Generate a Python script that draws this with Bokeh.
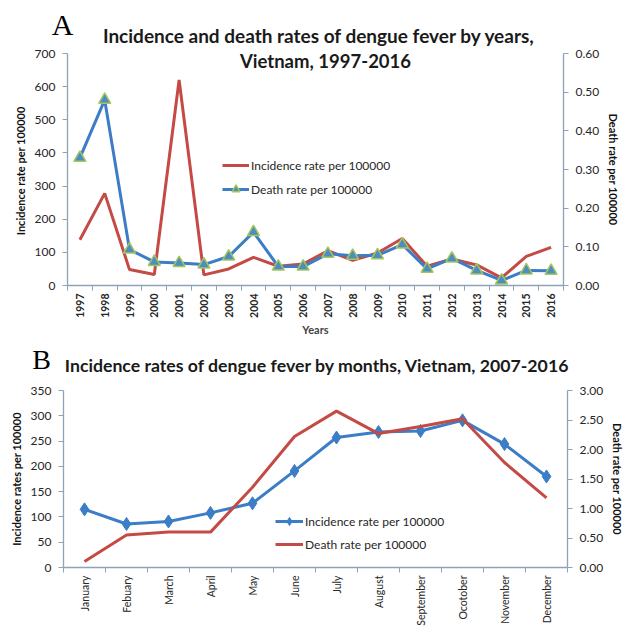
import math
from bokeh.plotting import figure
from bokeh.models import (Range1d, LinearAxis, FixedTicker, Label, Legend,
                          LegendItem, NumeralTickFormatter)
from bokeh.layouts import column
from bokeh.embed import file_html
from bokeh.resources import INLINE

# ---------------- data: chart A (by years) ----------------
years = [1997, 1998, 1999, 2000, 2001, 2002, 2003, 2004, 2005, 2006,
         2007, 2008, 2009, 2010, 2011, 2012, 2013, 2014, 2015, 2016]
year_labels = ["1997", "1998", "1999", "2000", "2001", "2002", "2003", "2004",
               "2005", "2006", "2007", "2008", "2009", "2010", "2011", "2012",
               "2013", "2014", "2015", "2016"]
incidence_years = [138, 278, 48, 33, 620, 32, 50, 85, 58, 65,
                   105, 76, 98, 142, 58, 80, 62, 23, 88, 115]
death_years = [0.33, 0.48, 0.093, 0.061, 0.058, 0.054, 0.075, 0.138, 0.049, 0.049,
               0.082, 0.077, 0.078, 0.106, 0.043, 0.070, 0.039, 0.013, 0.039, 0.038]
a_left_ticks = [0, 100, 200, 300, 400, 500, 600, 700]
a_right_ticks = [0.0, 0.1, 0.2, 0.3, 0.4, 0.5, 0.6]

# ---------------- data: chart B (by months) ----------------
month_pos = [0, 1, 2, 3, 4, 5, 6, 7, 8, 9, 10, 11]
months = ["January", "Febuary", "March", "April", "May", "June", "July",
          "August", "September", "Ocotober", "November", "December"]
incidence_months = [115, 86, 91, 108, 127, 191, 257, 268, 270, 291, 244, 180]
death_months = [0.10, 0.55, 0.60, 0.60, 1.36, 2.22, 2.65, 2.27, 2.39, 2.52, 1.78, 1.18]
b_left_ticks = [0, 50, 100, 150, 200, 250, 300, 350]
b_right_ticks = [0.0, 0.5, 1.0, 1.5, 2.0, 2.5, 3.0]

# ---------------- styles ----------------
RED = "#C44A45"
BLUE = "#3B7DC6"
TRI_FILL = "#4A8EC2"
TRI_LINE = "#A6C55A"
AXIS = "#8DA3B6"
TXT = "#262626"
FONT = "Lato"
SERIF = "Liberation Serif"
W = 627


def no_align(p):
    try:
        p.frame_align = False
    except Exception:
        pass


def style_y(ax, label):
    ax.axis_label = label
    ax.axis_label_text_font = FONT
    ax.axis_label_text_font_style = "bold"
    ax.axis_label_text_font_size = "11px"
    ax.axis_label_text_color = "#111111"
    ax.axis_label_standoff = 5
    ax.axis_line_color = AXIS
    ax.axis_line_width = 1.3
    ax.major_tick_line_color = AXIS
    ax.major_tick_out = 5
    ax.major_tick_in = 0
    ax.minor_tick_out = 0
    ax.minor_tick_in = 0
    ax.major_label_text_font = FONT
    ax.major_label_text_font_size = "12px"
    ax.major_label_text_color = TXT
    ax.major_label_standoff = 7


def style_x(ax, ticks, labels, bold, size):
    minor = [t - 0.5 for t in ticks] + [ticks[-1] + 0.5]
    ax.ticker = FixedTicker(ticks=ticks, minor_ticks=minor)
    ax.major_label_overrides = {t: l for t, l in zip(ticks, labels)}
    ax.major_label_orientation = math.pi / 2
    ax.major_label_text_font = FONT
    ax.major_label_text_font_size = size
    ax.major_label_text_font_style = "bold" if bold else "normal"
    ax.major_label_text_color = TXT
    ax.major_label_standoff = 4
    ax.axis_line_color = AXIS
    ax.axis_line_width = 1.3
    ax.major_tick_out = 0
    ax.major_tick_in = 0
    ax.minor_tick_line_color = AXIS
    ax.minor_tick_out = 5
    ax.minor_tick_in = 0


def base_fig(height, xr, yr, mbl, mbr, mbt, mbb):
    p = figure(width=W, height=height, x_range=xr, y_range=yr,
               output_backend="svg", toolbar_location=None,
               min_border_left=mbl, min_border_right=mbr,
               min_border_top=mbt, min_border_bottom=mbb)
    p.xgrid.visible = False
    p.ygrid.visible = False
    p.outline_line_color = None
    p.background_fill_color = "white"
    p.border_fill_color = "white"
    no_align(p)
    return p


def header_fig(height):
    h = figure(width=W, height=height, x_range=Range1d(0, W), y_range=Range1d(0, height),
               output_backend="svg", toolbar_location=None,
               x_axis_type=None, y_axis_type=None, min_border=0)
    h.xgrid.visible = False
    h.ygrid.visible = False
    h.outline_line_color = None
    h.background_fill_color = "white"
    h.border_fill_color = "white"
    no_align(h)
    return h


def text_at(p, x, y, text, font, size, bold=True, color="#1a1a1a", units="data"):
    p.add_layout(Label(x=x, y=y, x_units=units, y_units=units, text=text,
                       text_align="center", text_baseline="middle",
                       text_font=font, text_font_size=size,
                       text_font_style="bold" if bold else "normal",
                       text_color=color))


# ================= Header A =================
hA = header_fig(46)
text_at(hA, 62, 22.5, "A", SERIF, "30px", bold=False, color="black")
text_at(hA, 321, 11, "Incidence and death rates of dengue fever  by years,", FONT, "19px")

# ================= Chart A =================
pA = base_fig(292, Range1d(years[0] - 0.5, years[-1] + 0.5), Range1d(0, 700),
              67, 64, 7, 53)
pA.extra_y_ranges = {"death": Range1d(0, 0.6)}

style_y(pA.yaxis[0], "Incidence  rate per 100000")
pA.yaxis[0].ticker = FixedTicker(ticks=a_left_ticks)
ra = LinearAxis(y_range_name="death")
style_y(ra, "Death rate per 100000")
ra.ticker = FixedTicker(ticks=a_right_ticks)
ra.formatter = NumeralTickFormatter(format="0.00")
pA.add_layout(ra, "right")

style_x(pA.xaxis[0], years, year_labels, True, "10.5px")
pA.xaxis[0].major_label_standoff = 3
pA.xaxis[0].axis_label = "Years"
pA.xaxis[0].axis_label_text_font = FONT
pA.xaxis[0].axis_label_text_font_style = "bold"
pA.xaxis[0].axis_label_text_font_size = "11px"
pA.xaxis[0].axis_label_standoff = 2

rA_inc = pA.line(years, incidence_years, line_color=RED, line_width=3)
rA_dl = pA.line(years, death_years, line_color=BLUE, line_width=3, y_range_name="death")
rA_dm = pA.scatter(years, death_years, marker="triangle", size=12,
                   fill_color=TRI_FILL, line_color=TRI_LINE, line_width=1.5,
                   y_range_name="death")

legA = Legend(items=[LegendItem(label="Incidence rate per 100000", renderers=[rA_inc]),
                     LegendItem(label="Death rate per 100000", renderers=[rA_dl, rA_dm])],
              location=(155, 86), padding=0, margin=0, spacing=4,
              glyph_width=27, glyph_height=20, label_height=20, label_standoff=2,
              label_text_font=FONT, label_text_font_size="12px", label_text_color=TXT,
              background_fill_alpha=0, border_line_alpha=0)
pA.add_layout(legA)

text_at(pA, 258, 225, "Vietnam, 1997-2016", FONT, "18.5px", units="screen")

# ================= Header B =================
hB = header_fig(45)
text_at(hB, 41, 24, "B", SERIF, "28px", bold=False, color="black")
text_at(hB, 317, 18, "Incidence rates of dengue fever by months, Vietnam, 2007-2016", FONT, "17.7px")

# ================= Chart B =================
pB = base_fig(245, Range1d(-0.5, 11.5), Range1d(0, 350), 63, 60, 7, 61)
pB.extra_y_ranges = {"death": Range1d(0, 3.0)}

style_y(pB.yaxis[0], "Incidence rates per 100000")
pB.yaxis[0].ticker = FixedTicker(ticks=b_left_ticks)
rb = LinearAxis(y_range_name="death")
style_y(rb, "Death rate per 100000")
rb.ticker = FixedTicker(ticks=b_right_ticks)
rb.formatter = NumeralTickFormatter(format="0.00")
pB.add_layout(rb, "right")

style_x(pB.xaxis[0], month_pos, months, False, "10.5px")
pB.xaxis[0].major_label_standoff = 3

rB_il = pB.line(month_pos, incidence_months, line_color=BLUE, line_width=3)
rB_im = pB.scatter(month_pos, incidence_months, marker="diamond", size=13,
                   fill_color=BLUE, line_color=BLUE)
rB_d = pB.line(month_pos, death_months, line_color=RED, line_width=3, y_range_name="death")

legB = Legend(items=[LegendItem(label="Incidence rate per 100000", renderers=[rB_il, rB_im]),
                     LegendItem(label="Death rate per 100000", renderers=[rB_d])],
              location=(212, 13), padding=0, margin=0, spacing=3,
              glyph_width=28, glyph_height=20, label_height=20, label_standoff=2,
              label_text_font=FONT, label_text_font_size="12px", label_text_color=TXT,
              background_fill_alpha=0, border_line_alpha=0)
pB.add_layout(legB)

layout = column(hA, pA, hB, pB, spacing=0)
open("out.html", "w").write(file_html(layout, INLINE))
